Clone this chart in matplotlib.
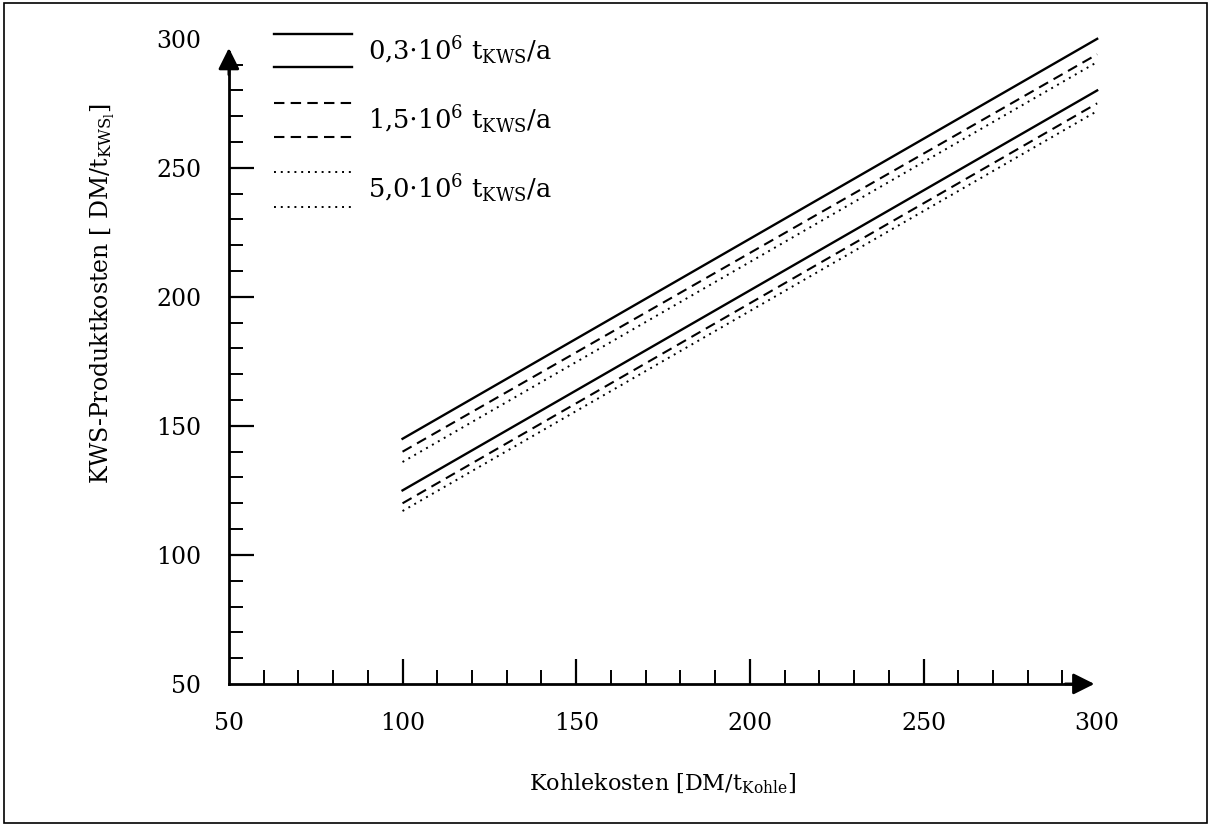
import matplotlib.pyplot as plt
from matplotlib.patches import Rectangle
from matplotlib.ticker import MultipleLocator

# coal cost range and product cost at both ends for the three plant sizes
kohlekosten = [100, 300]
kosten_03_oben = [145, 300]
kosten_03_unten = [125, 280]
kosten_15_oben = [140, 294]
kosten_15_unten = [120, 275]
kosten_50_oben = [136, 291]
kosten_50_unten = [117, 272]

legend_labels = [r'0,3$\cdot$10$^6$ t$_{\mathrm{KWS}}$/a',
                 r'1,5$\cdot$10$^6$ t$_{\mathrm{KWS}}$/a',
                 r'5,0$\cdot$10$^6$ t$_{\mathrm{KWS}}$/a']

plt.rcParams['font.family'] = ['DejaVu Serif']
plt.rcParams['mathtext.fontset'] = 'dejavuserif'

fig = plt.figure(figsize=(12.11, 8.26), dpi=100)
ax = fig.add_axes([0.189, 0.172, 0.717, 0.781])

solid = dict(color='black', lw=1.7, ls='-', clip_on=False)
dashed = dict(color='black', lw=1.5, ls=(0, (5, 3)), clip_on=False)
dotted = dict(color='black', lw=1.4, ls=(0, (1, 2.5)), clip_on=False)

ax.plot(kohlekosten, kosten_03_oben, **solid)
ax.plot(kohlekosten, kosten_03_unten, **solid)
ax.plot(kohlekosten, kosten_15_oben, **dashed)
ax.plot(kohlekosten, kosten_15_unten, **dashed)
ax.plot(kohlekosten, kosten_50_oben, **dotted)
ax.plot(kohlekosten, kosten_50_unten, **dotted)

ax.set_xlim(50, 300)
ax.set_ylim(50, 300)
for s in ['top', 'right']:
    ax.spines[s].set_visible(False)
for s in ['left', 'bottom']:
    ax.spines[s].set_linewidth(2)
ax.spines['left'].set_bounds(50, 295)
ax.spines['bottom'].set_bounds(50, 295)

ax.xaxis.set_major_locator(MultipleLocator(50))
ax.xaxis.set_minor_locator(MultipleLocator(10))
ax.yaxis.set_major_locator(MultipleLocator(50))
ax.yaxis.set_minor_locator(MultipleLocator(10))
ax.tick_params(which='major', direction='in', length=18, width=1.6, labelsize=17, pad=20)
ax.tick_params(which='minor', direction='in', length=10, width=1.4)
ax.tick_params(axis='y', which='major', pad=20)

# no tick marks at the origin and under the arrow heads
fig.canvas.draw()
for t in ax.xaxis.get_major_ticks() + ax.yaxis.get_major_ticks():
    if t.get_loc() in (50, 300):
        t.tick1line.set_visible(False)

# arrow heads on the axes
ax.annotate('', xy=(1.0, 0), xytext=(0.96, 0), xycoords='axes fraction',
            arrowprops=dict(arrowstyle='-|>', color='black', lw=2, mutation_scale=32))
ax.annotate('', xy=(0, 0.99), xytext=(0, 0.94), xycoords='axes fraction',
            arrowprops=dict(arrowstyle='-|>', color='black', lw=2, mutation_scale=32))

ax.set_xlabel(r'Kohlekosten [DM/t$_{\mathrm{Kohle}}$]', fontsize=16, labelpad=27)
fig.text(0.085, 0.645, r'KWS-Produktkosten [ DM/t$_{\mathrm{KWS}_{\mathrm{l}}}$]',
         rotation=90, fontsize=17, ha='center', va='center')

# legend drawn by hand: two short strokes per line style
styles = [solid, dashed, dotted]
y_pairs = [(302, 289), (275, 262), (248.5, 235)]
for st, (y1, y2), lab in zip(styles, y_pairs, legend_labels):
    for yy in (y1, y2):
        ax.plot([63, 85.5], [yy, yy], **st)
    ax.text(90, (y1 + y2) / 2, lab, fontsize=18.5, va='center', ha='left')

fig.add_artist(Rectangle((0.003, 0.004), 0.994, 0.992, transform=fig.transFigure,
                         fill=False, edgecolor='black', lw=1.2))

fig.savefig('out.png', dpi=100)
